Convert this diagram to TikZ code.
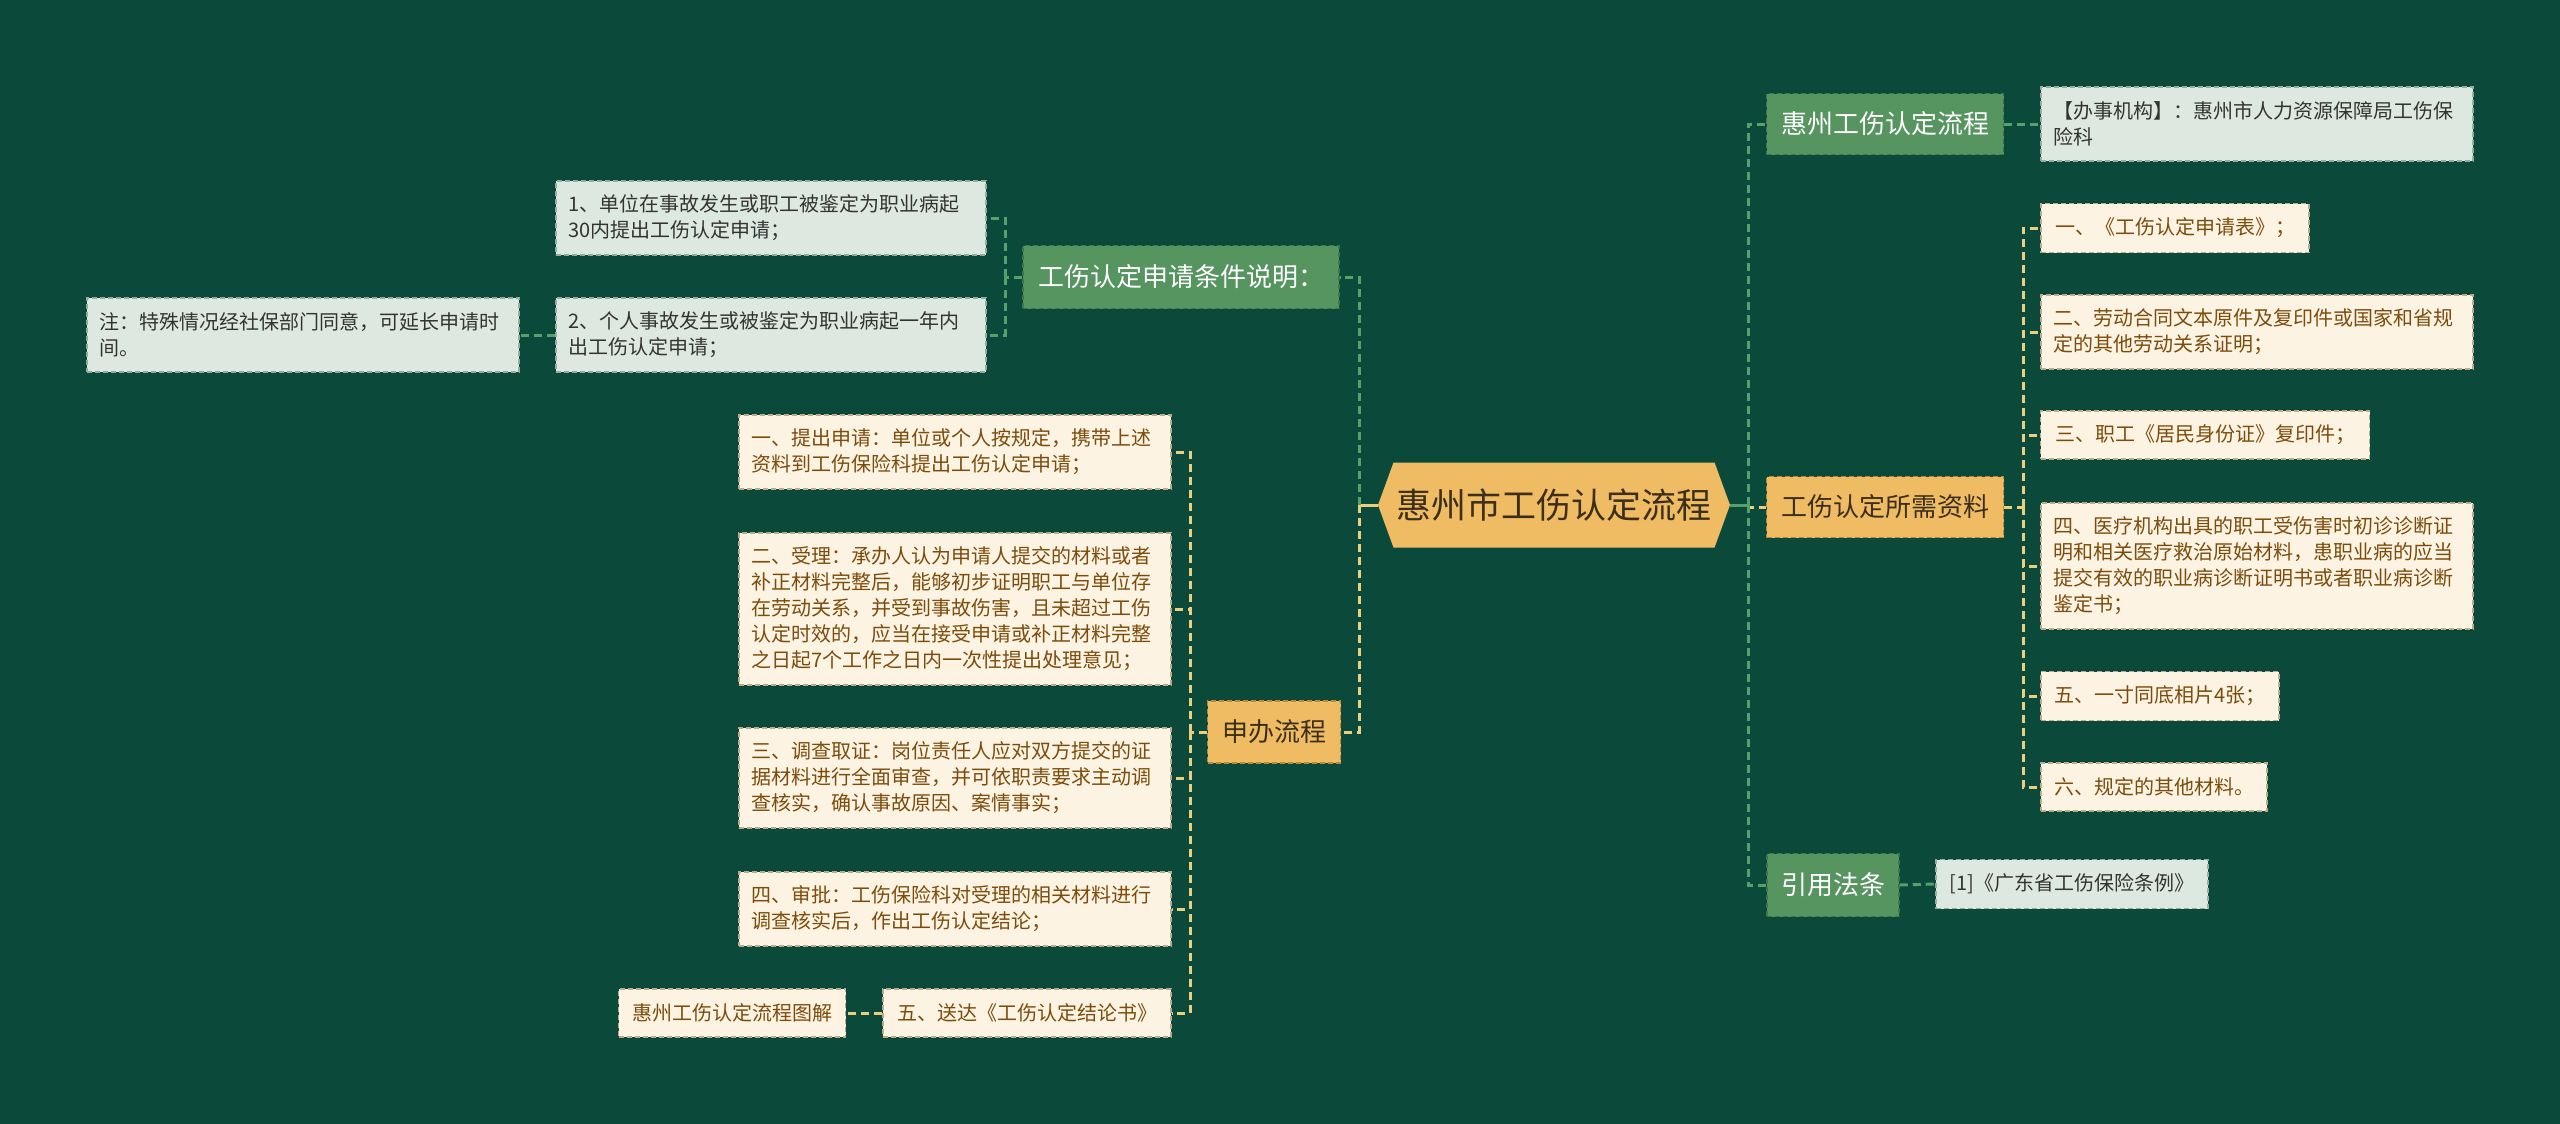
\documentclass[tikz,border=0pt]{standalone}
\usepackage{fontspec}
\setmainfont{Noto Sans CJK SC}
\usetikzlibrary{shapes.symbols}
\definecolor{bg}{HTML}{0B4A3A}
\definecolor{rootfill}{HTML}{EFBC64}
\definecolor{rootink}{HTML}{3B2F1A}
\definecolor{gfill}{HTML}{569460}
\definecolor{gline}{HTML}{3F7649}
\definecolor{ofill}{HTML}{EFBC64}
\definecolor{oline}{HTML}{B98A3A}
\definecolor{mfill}{HTML}{DDE9E0}
\definecolor{mline}{HTML}{98AC9E}
\definecolor{mink}{HTML}{333333}
\definecolor{cfill}{HTML}{FDF3E2}
\definecolor{cline}{HTML}{BCAA8A}
\definecolor{cink}{HTML}{7B4C0C}
\definecolor{wireg}{HTML}{56A06C}
\definecolor{wirey}{HTML}{E9CF7E}
\tikzset{
  box/.style={dash pattern=on 5pt off 3pt, line width=1.5pt, inner xsep=12pt, inner ysep=0pt,
    align=left, font=\fontsize{20}{26}\selectfont},
  mint/.style={box, fill=mfill, draw=mline, text=mink},
  cream/.style={box, fill=cfill, draw=cline, text=cink},
  topic/.style={dash pattern=on 5pt off 3pt, line width=1.5pt, inner sep=0pt,
    font=\fontsize{26}{32}\selectfont},
  gtopic/.style={topic, fill=gfill, draw=gline, text=white},
  otopic/.style={topic, fill=ofill, draw=oline, text=rootink},
  rootnode/.style={shape=signal, signal to=west and east, signal pointer angle=140,
    fill=rootfill, text=rootink, inner sep=0pt, minimum width=352pt, minimum height=85pt,
    font=\fontsize{35}{40}\selectfont},
  lkg/.style={draw=wireg, line width=3pt, dash pattern=on 8pt off 5pt},
  lky/.style={draw=wirey, line width=3pt, dash pattern=on 8pt off 5pt},
  stub/.style={line width=3pt}
}
\begin{document}
\begin{tikzpicture}[x=1pt,y=-1pt]
  \fill[bg] (0,0) rectangle (2560,1124);
  \useasboundingbox (0,0) rectangle (2560,1124);
  \node[rootnode] (root) at (1554,505) {惠州市工伤认定流程};
  \node[gtopic, minimum width=316pt, minimum height=63pt] (cond) at (1181,277) {工伤认定申请条件说明：};
  \node[mint, text width=406pt, minimum height=74pt] (c1) at (771,218)
    {1、单位在事故发生或职工被鉴定为职业病起\\30内提出工伤认定申请；};
  \node[mint, text width=406pt, minimum height=74pt] (c2) at (771,335)
    {2、个人事故发生或被鉴定为职业病起一年内\\出工伤认定申请；};
  \node[mint, text width=408pt, minimum height=74pt] (note) at (303,335)
    {注：特殊情况经社保部门同意，可延长申请时\\间。};
  \node[otopic, minimum width=133pt, minimum height=62pt] (proc) at (1274,732) {申办流程};
  \node[cream, text width=408pt, minimum height=74pt] (p1) at (955,452)
    {一、提出申请：单位或个人按规定，携带上述\\资料到工伤保险科提出工伤认定申请；};
  \node[cream, text width=408pt, minimum height=152pt] (p2) at (955,609)
    {二、受理：承办人认为申请人提交的材料或者\\补正材料完整后，能够初步证明职工与单位存\\在劳动关系，并受到事故伤害，且未超过工伤\\认定时效的，应当在接受申请或补正材料完整\\之日起7个工作之日内一次性提出处理意见；};
  \node[cream, text width=408pt, minimum height=100pt] (p3) at (955,778)
    {三、调查取证：岗位责任人应对双方提交的证\\据材料进行全面审查，并可依职责要求主动调\\查核实，确认事故原因、案情事实；};
  \node[cream, text width=408pt, minimum height=74pt] (p4) at (955,909)
    {四、审批：工伤保险科对受理的相关材料进行\\调查核实后，作出工伤认定结论；};
  \node[cream, minimum width=288pt, minimum height=48pt, align=center] (p5) at (1027,1013)
    {五、送达《工伤认定结论书》};
  \node[cream, minimum width=227pt, minimum height=48pt, align=center] (pic) at (732,1013)
    {惠州工伤认定流程图解};
  \node[gtopic, minimum width=237pt, minimum height=61pt] (flow) at (1885,124) {惠州工伤认定流程};
  \node[mint, text width=408pt, minimum height=74pt] (org) at (2257,124)
    {【办事机构】：惠州市人力资源保障局工伤保\\险科};
  \node[otopic, minimum width=237pt, minimum height=61pt] (need) at (1885,507) {工伤认定所需资料};
  \node[cream, minimum width=268pt, minimum height=49pt] (r1) at (2175,228)
    {一、《工伤认定申请表》；};
  \node[cream, text width=408pt, minimum height=74pt] (r2) at (2257,332)
    {二、劳动合同文本原件及复印件或国家和省规\\定的其他劳动关系证明；};
  \node[cream, minimum width=329pt, minimum height=48pt] (r3) at (2205,435)
    {三、职工《居民身份证》复印件；};
  \node[cream, text width=408pt, minimum height=126pt] (r4) at (2257,566)
    {四、医疗机构出具的职工受伤害时初诊诊断证\\明和相关医疗救治原始材料，患职业病的应当\\提交有效的职业病诊断证明书或者职业病诊断\\鉴定书；};
  \node[cream, minimum width=238pt, minimum height=49pt] (r5) at (2160,696)
    {五、一寸同底相片4张；};
  \node[cream, minimum width=226pt, minimum height=48pt] (r6) at (2154,787)
    {六、规定的其他材料。};
  \node[gtopic, minimum width=132pt, minimum height=63pt] (law) at (1833,885) {引用法条};
  \node[mint, minimum width=272pt, minimum height=49pt] (ref) at (2072,884)
    {[1]《广东省工伤保险条例》};
  \coordinate (lt) at (1359,505);
  \coordinate (rt) at (1748,505);
  \coordinate (ct) at (1005,277);
  \coordinate (pt) at (1190,732);
  \coordinate (nt) at (2023,507);
  \begin{scope}
    \draw[stub, draw=wirey] (root.west) -- (lt);
    \draw[stub, draw=wireg] (root.east) -- (rt);
    \draw[lkg] (lt) |- (cond.east);
    \draw[lky] (lt) |- (proc.east);
    \draw[lkg] (cond.west) -- (ct);
    \foreach \n in {c1,c2}
      \draw[lkg] (ct) |- (\n.east);
    \draw[lkg] (c2.west) -- (note.east);
    \draw[lky] (proc.west) -- (pt);
    \foreach \i in {1,...,5}
      \draw[lky] (pt) |- (p\i.east);
    \draw[lky] (p5.west) -- (pic.east);
    \draw[lkg] (rt) |- (flow.west);
    \draw[lky] (rt) |- (need.west);
    \draw[lkg] (rt) |- (law.west);
    \draw[lkg] (flow.east) -- (org.west);
    \draw[lky] (need.east) -- (nt);
    \foreach \i in {1,...,6}
      \draw[lky] (nt) |- (r\i.west);
    \draw[lkg] (law.east) -- (ref.west);
  \end{scope}
\end{tikzpicture}
\end{document}
